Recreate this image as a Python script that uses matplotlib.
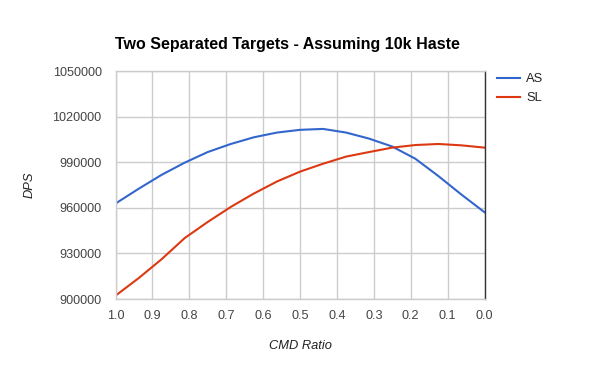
import matplotlib
matplotlib.use("Agg")
import matplotlib.pyplot as plt

# CMD ratio steps (1/16 apart)
cmd_ratio = [1.0, 0.9375, 0.875, 0.8125, 0.75, 0.6875, 0.625, 0.5625, 0.5,
             0.4375, 0.375, 0.3125, 0.25, 0.1875, 0.125, 0.0625, 0.0]
dps_as = [962800, 972500, 981700, 989700, 996700, 1002000, 1006400, 1009500, 1011300,
          1011900, 1009500, 1005500, 1000300, 992300, 980900, 968700, 957100]
dps_sl = [902200, 913700, 926200, 940100, 950700, 960600, 969400, 977300, 983800,
          989000, 993700, 996700, 999600, 1001300, 1002000, 1001100, 999600]

x_ticks = [1.0, 0.9, 0.8, 0.7, 0.6, 0.5, 0.4, 0.3, 0.2, 0.1, 0.0]
y_ticks = [900000, 930000, 960000, 990000, 1020000, 1050000]

plt.rcParams['font.family'] = ['Liberation Sans', 'DejaVu Sans']

fig = plt.figure(figsize=(6, 3.71), dpi=100)
ax = fig.add_axes([0.1925, 0.194, 0.615, 0.6146])

ax.plot(cmd_ratio, dps_as, color='#3366CC', lw=1.5, label='AS', solid_joinstyle='round')
ax.plot(cmd_ratio, dps_sl, color='#DC3912', lw=1.5, label='SL', solid_joinstyle='round')

ax.set_xlim(1.0, 0.0)
ax.set_ylim(900000, 1050000)
ax.set_xticks(x_ticks)
ax.set_xticklabels(['%.1f' % t for t in x_ticks])
ax.set_yticks(y_ticks)
ax.set_yticklabels([str(t) for t in y_ticks])

ax.grid(True, color='#cccccc', lw=1)
ax.set_axisbelow(True)
for s in ['top', 'left', 'bottom']:
    ax.spines[s].set_color('#cccccc')
    ax.spines[s].set_linewidth(1)
ax.spines['right'].set_color('#333333')
ax.spines['right'].set_linewidth(1)
ax.tick_params(length=0, labelsize=9.1, colors='#444444', pad=10)
ax.tick_params(axis='x', pad=8)

ax.set_xlabel('CMD Ratio', fontsize=9.3, style='italic', color='#222222', labelpad=13)
ax.set_ylabel('DPS', fontsize=9.3, style='italic', color='#222222', labelpad=12)

fig.text(0.479, 0.879, 'Two Separated Targets - Assuming 10k Haste',
         ha='center', va='center', fontsize=11.5, fontweight='bold', color='black')

leg = fig.legend(loc='upper left', bbox_to_anchor=(497 / 600, 1 - 73 / 371),
                 frameon=False, fontsize=9.3, handlelength=1.8, handletextpad=0.45,
                 labelspacing=0.55, borderpad=0, borderaxespad=0)
for t in leg.get_texts():
    t.set_color('#222222')

fig.savefig('out.png', dpi=100)
